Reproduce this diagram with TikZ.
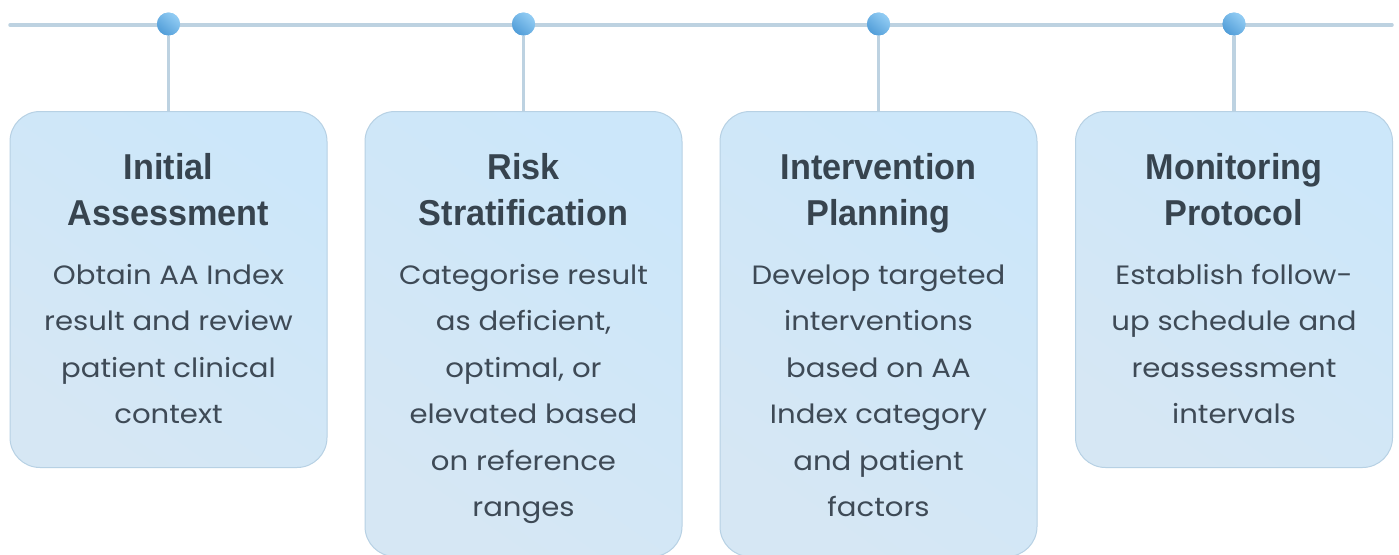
\documentclass[tikz,border=0pt]{standalone}
\usepackage{fontspec}
\newfontfamily\headfont{Liberation Sans}[FakeStretch=0.95]
\newfontfamily\bodyfont{Poppins}[FakeStretch=1.1]
\definecolor{railc}{HTML}{BDD2E1}
\definecolor{cardedge}{HTML}{B7D1E4}
\definecolor{cardtop}{HTML}{CCE7FA}
\definecolor{cardbot}{HTML}{D6E7F4}
\definecolor{dotlight}{HTML}{93CDF4}
\definecolor{dotdark}{HTML}{519DD8}
\definecolor{headc}{HTML}{37444F}
\definecolor{bodyc}{HTML}{3E4A56}
\tikzset{
  rail/.style={draw=railc, line width=3.5pt, line cap=round},
  stem/.style={draw=railc, line width=3.5pt},
  marker/.style={circle, minimum size=23pt, inner sep=0pt, draw=none,
    shading=axis, top color=dotlight, bottom color=dotdark, shading angle=-40},
  card/.style={rectangle, rounded corners=30pt, draw=cardedge, line width=1pt,
    minimum width=317pt, inner sep=0pt,
    shading=axis, top color=cardtop, bottom color=cardbot, shading angle=-35},
  head/.style={anchor=north, align=center, inner sep=0pt, text=headc,
    font=\headfont\bfseries\fontsize{36}{46}\selectfont},
  body/.style={anchor=north, align=center, inner sep=0pt, text=bodyc,
    font=\bodyfont\fontsize{26.5}{46.5}\selectfont},
}
\newcommand{\firststrut}{\rule{0pt}{30pt}}
\begin{document}
\begin{tikzpicture}[x=1pt, y=-1pt]
  \useasboundingbox (0,0) rectangle (1399,554);
  \clip (0,0) rectangle (1399,554);
  \fill[white] (0,0) rectangle (1399,554);

  % timeline rail
  \coordinate (railL) at (10,25);
  \coordinate (railR) at (1392,25);
  \draw[rail] (railL) -- (railR);

  % cards (top edge at 111)
  \node[card, minimum height=356pt, anchor=north] (c1) at (168.5,111) {};
  \node[card, minimum height=445pt, anchor=north] (c2) at (523.5,111) {};
  \node[card, minimum height=445pt, anchor=north] (c3) at (878.5,111) {};
  \node[card, minimum height=356pt, anchor=north] (c4) at (1234,111) {};

  % markers on the rail
  \node[marker] (m1) at (168.5,24) {};
  \node[marker] (m2) at (523.5,24) {};
  \node[marker] (m3) at (878.5,24) {};
  \node[marker] (m4) at (1234,24) {};

  % stems from markers down to cards, markers redrawn on top
  \foreach \i in {1,...,4} {
    \draw[stem] (m\i.south) -- (c\i.north);
  }
  \foreach \i in {1,...,4} {
    \node[marker] at (m\i) {};
  }

  % headings (first baseline at 179)
  \node[head] (h1) at ([yshift=-38pt]c1.north) {\firststrut Initial\\Assessment};
  \node[head] (h2) at ([yshift=-38pt]c2.north) {\firststrut Risk\\Stratification};
  \node[head] (h3) at ([yshift=-38pt]c3.north) {\firststrut Intervention\\Planning};
  \node[head] (h4) at ([yshift=-38pt]c4.north) {\firststrut Monitoring\\Protocol};

  % descriptions (first baseline at 284)
  \node[body] (t1) at ([yshift=-143pt]c1.north)
    {\firststrut Obtain AA Index\\result and review\\patient clinical\\context};
  \node[body] (t2) at ([yshift=-143pt]c2.north)
    {\firststrut Categorise result\\as deficient,\\optimal, or\\elevated based\\on reference\\ranges};
  \node[body] (t3) at ([yshift=-143pt]c3.north)
    {\firststrut Develop targeted\\interventions\\based on AA\\Index category\\and patient\\factors};
  \node[body] (t4) at ([yshift=-143pt]c4.north)
    {\firststrut Establish follow-\\up schedule and\\reassessment\\intervals};
\end{tikzpicture}
\end{document}
